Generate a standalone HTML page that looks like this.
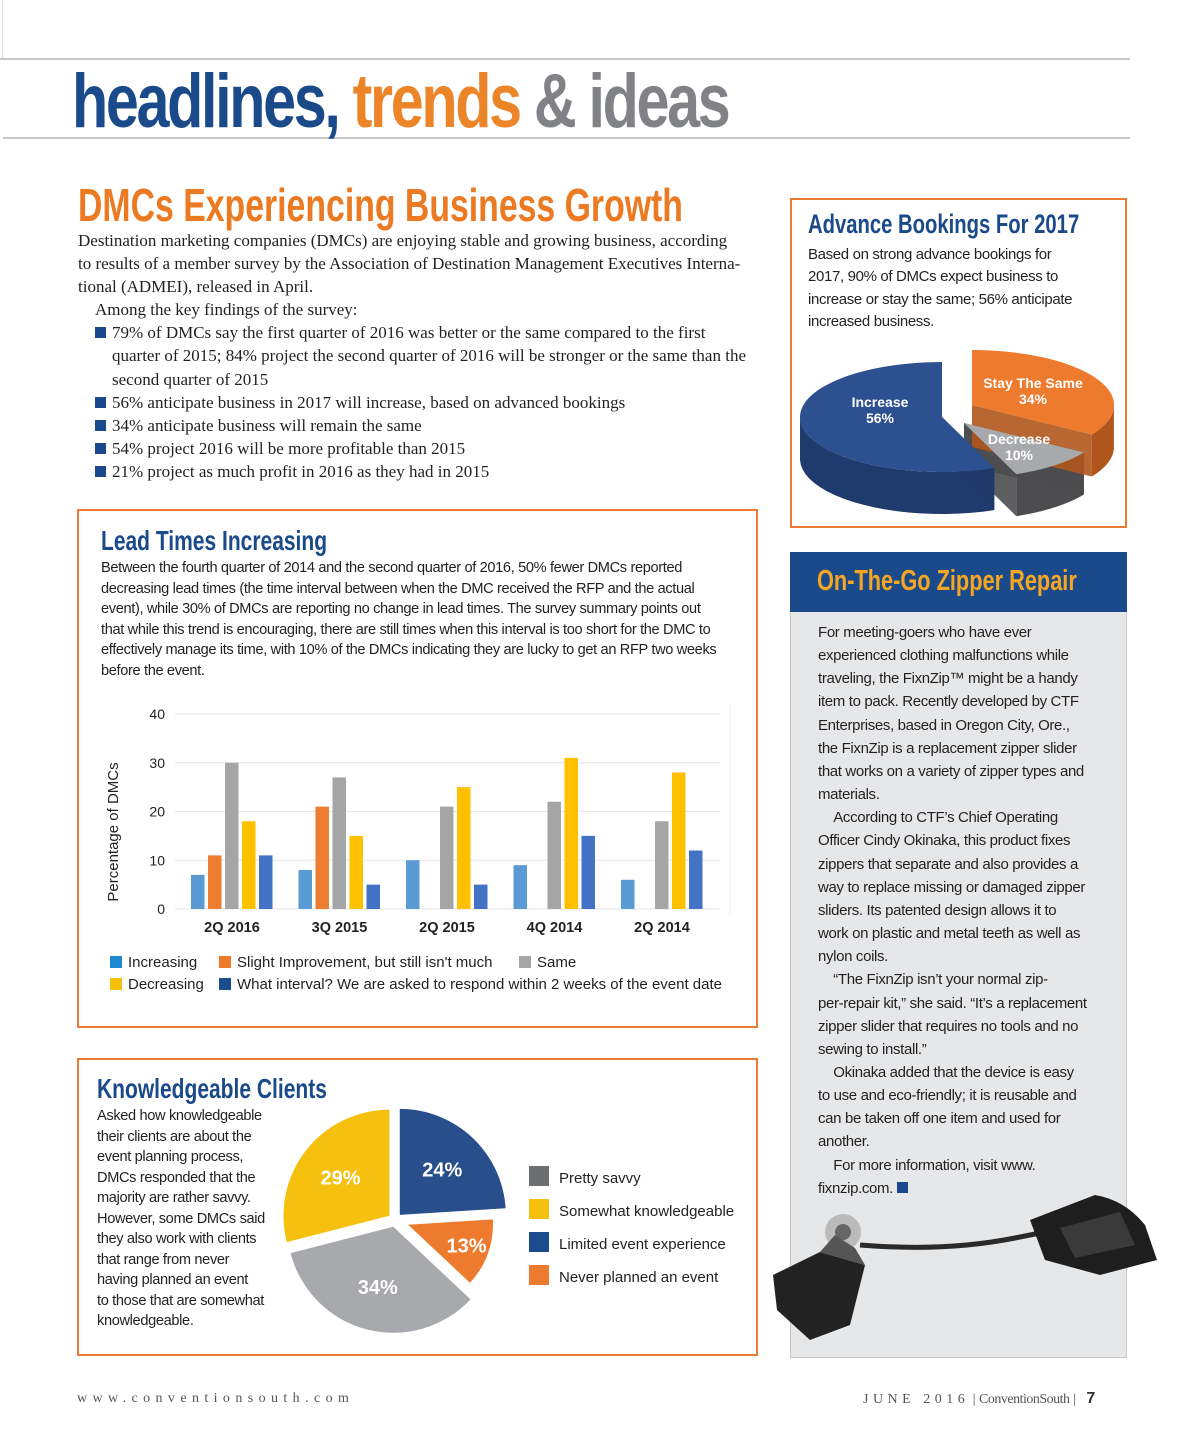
<!DOCTYPE html>
<html><head><meta charset="utf-8">
<style>
*{margin:0;padding:0;box-sizing:border-box}
body{width:1200px;height:1450px;background:#fff;position:relative;overflow:hidden;font-family:"Liberation Sans",sans-serif;color:#231f20}
.abs{position:absolute}
.cond{display:inline-block;transform-origin:0 0;white-space:nowrap;font-weight:bold}
.serif{font-family:"Liberation Serif",serif;font-size:17px;line-height:23.1px;white-space:nowrap;color:#231f20}
.sans{font-size:14.6px;line-height:20.5px;white-space:nowrap;letter-spacing:-0.35px}
.sq{display:inline-block;width:11px;height:11px;background:#1b4a8c;margin-right:6px;vertical-align:0}
.box{position:absolute;border:2px solid #ec7a32}
.leg{position:absolute;font-size:15px;white-space:nowrap}
.leg i{display:inline-block;width:12px;height:12px;margin-right:6px;vertical-align:-1px}
</style></head><body>
<div class="abs" style="left:2px;top:0;width:1px;height:60px;background:#ddd"></div>
<div class="abs" style="left:0;top:58px;width:1130px;height:2px;background:#c8c8c8"></div>
<div class="abs" style="left:3px;top:137px;width:1127px;height:2px;background:#c8c8c8"></div>
<div class="abs" style="left:72px;top:58px">
 <span class="cond" style="font-size:76px;letter-spacing:-3px;transform:scaleX(0.78)"><span style="color:#1a4a8a">headlines,</span> <span style="color:#ec8428">trends</span> <span style="color:#808285">&amp; ideas</span></span>
</div>

<div class="abs" style="left:78px;top:178px"><span class="cond" style="font-size:46px;color:#ec7a22;transform:scaleX(0.735)">DMCs Experiencing Business Growth</span></div>
<div class="abs serif" style="left:78px;top:229px">
Destination marketing companies (DMCs) are enjoying stable and growing business, according<br>
to results of a member survey by the Association of Destination Management Executives Interna-<br>
tional (ADMEI), released in April.<br>
&nbsp;&nbsp;&nbsp;&nbsp;Among the key findings of the survey:<br>
&nbsp;&nbsp;&nbsp;&nbsp;<span class="sq"></span>79% of DMCs say the first quarter of 2016 was better or the same compared to the first<br>
<span style="padding-left:34px"></span>quarter of 2015; 84% project the second quarter of 2016 will be stronger or the same than the<br>
<span style="padding-left:34px"></span>second quarter of 2015<br>
&nbsp;&nbsp;&nbsp;&nbsp;<span class="sq"></span>56% anticipate business in 2017 will increase, based on advanced bookings<br>
&nbsp;&nbsp;&nbsp;&nbsp;<span class="sq"></span>34% anticipate business will remain the same<br>
&nbsp;&nbsp;&nbsp;&nbsp;<span class="sq"></span>54% project 2016 will be more profitable than 2015<br>
&nbsp;&nbsp;&nbsp;&nbsp;<span class="sq"></span>21% project as much profit in 2016 as they had in 2015
</div>

<!-- Lead times box -->
<div class="box" style="left:77px;top:509px;width:681px;height:519px"></div>
<div class="abs" style="left:101px;top:525px"><span class="cond" style="font-size:28px;color:#1a4a8a;transform:scaleX(0.75)">Lead Times Increasing</span></div>
<div class="abs sans" style="left:101px;top:558px">
Between the fourth quarter of 2014 and the second quarter of 2016, 50% fewer DMCs reported<br>
decreasing lead times (the time interval between when the DMC received the RFP and the actual<br>
event), while 30% of DMCs are reporting no change in lead times. The survey summary points out<br>
that while this trend is encouraging, there are still times when this interval is too short for the DMC to<br>
effectively manage its time, with 10% of the DMCs indicating they are lucky to get an RFP two weeks<br>
before the event.
</div>
<svg class="abs" id="bar" style="left:0;top:0" width="760" height="1000"></svg>
<div class="leg" style="left:110px;top:954px"><i style="background:#1e88d0"></i>Increasing</div>
<div class="leg" style="left:219px;top:954px"><i style="background:#ee7a2e"></i>Slight Improvement, but still isn't much</div>
<div class="leg" style="left:519px;top:954px"><i style="background:#a5a5a5"></i>Same</div>
<div class="leg" style="left:110px;top:976px"><i style="background:#f6c10e"></i>Decreasing</div>
<div class="leg" style="left:219px;top:976px"><i style="background:#1c4b8e"></i>What interval? We are asked to respond within 2 weeks of the event date</div>

<!-- Knowledgeable box -->
<div class="box" style="left:77px;top:1058px;width:681px;height:298px"></div>
<div class="abs" style="left:97px;top:1073px"><span class="cond" style="font-size:28px;color:#1a4a8a;transform:scaleX(0.75)">Knowledgeable Clients</span></div>
<div class="abs sans" style="left:97px;top:1106px">
Asked how knowledgeable<br>their clients are about the<br>event planning process,<br>DMCs responded that the<br>majority are rather savvy.<br>However, some DMCs said<br>they also work with clients<br>that range from never<br>having planned an event<br>to those that are somewhat<br>knowledgeable.
</div>
<svg class="abs" id="kpie" style="left:275px;top:1102px" width="260" height="250"></svg>
<div class="leg" style="left:529px;top:1166px"><i style="background:#6d6e71;width:20px;height:20px;margin-right:10px;vertical-align:-3px"></i>Pretty savvy</div>
<div class="leg" style="left:529px;top:1199px"><i style="background:#f6c10e;width:20px;height:20px;margin-right:10px;vertical-align:-3px"></i>Somewhat knowledgeable</div>
<div class="leg" style="left:529px;top:1232px"><i style="background:#1c4b8e;width:20px;height:20px;margin-right:10px;vertical-align:-3px"></i>Limited event experience</div>
<div class="leg" style="left:529px;top:1265px"><i style="background:#ee7a2e;width:20px;height:20px;margin-right:10px;vertical-align:-3px"></i>Never planned an event</div>

<!-- Advance bookings -->
<div class="box" style="left:790px;top:198px;width:337px;height:330px"></div>
<div class="abs" style="left:808px;top:209px"><span class="cond" style="font-size:27px;color:#1a4a8a;transform:scaleX(0.75)">Advance Bookings For 2017</span></div>
<div class="abs sans" style="left:808px;top:244px;font-size:15px;line-height:22.3px">
Based on strong advance bookings for<br>2017, 90% of DMCs expect business to<br>increase or stay the same; 56% anticipate<br>increased business.
</div>
<svg class="abs" id="apie" style="left:800px;top:345px" width="320" height="175"></svg>

<!-- Zipper -->
<div class="abs" style="left:790px;top:552px;width:337px;height:806px;background:#e6e7e8;border:1px solid #c9c9c9"></div>
<div class="abs" style="left:790px;top:552px;width:337px;height:60px;background:#1a4a8a"></div>
<div class="abs" style="left:817px;top:565px"><span class="cond" style="font-size:29px;color:#f6a623;transform:scaleX(0.75)">On-The-Go Zipper Repair</span></div>
<div class="abs sans" style="left:818px;top:621px;font-size:15px;line-height:23.15px">
For meeting-goers who have ever<br>experienced clothing malfunctions while<br>traveling, the FixnZip™ might be a handy<br>item to pack. Recently developed by CTF<br>Enterprises, based in Oregon City, Ore.,<br>the FixnZip is a replacement zipper slider<br>that works on a variety of zipper types and<br>materials.<br>
&nbsp;&nbsp;&nbsp;&nbsp;According to CTF’s Chief Operating<br>Officer Cindy Okinaka, this product fixes<br>zippers that separate and also provides a<br>way to replace missing or damaged zipper<br>sliders. Its patented design allows it to<br>work on plastic and metal teeth as well as<br>nylon coils.<br>
&nbsp;&nbsp;&nbsp;&nbsp;“The FixnZip isn’t your normal zip-<br>per-repair kit,” she said. “It’s a replacement<br>zipper slider that requires no tools and no<br>sewing to install.”<br>
&nbsp;&nbsp;&nbsp;&nbsp;Okinaka added that the device is easy<br>to use and eco-friendly; it is reusable and<br>can be taken off one item and used for<br>another.<br>
&nbsp;&nbsp;&nbsp;&nbsp;For more information, visit www.<br>fixnzip.com.&nbsp;<span class="sq" style="margin:0"></span>
</div>
<svg class="abs" style="left:765px;top:1190px" width="400" height="165">
 <path d="M95 55 Q180 62 250 48 L290 40" stroke="#2a2a2a" stroke-width="5" fill="none"/>
 <path d="M265 30 L330 5 Q360 10 380 35 L392 70 L335 85 L280 70 Z" fill="#1e1e1e"/>
 <path d="M295 38 L355 22 L370 55 L310 68 Z" fill="#3a3a3a"/>
 <circle cx="78" cy="42" r="18" fill="#bbb"/>
 <circle cx="78" cy="42" r="8" fill="#666"/>
 <path d="M8 85 L55 62 L100 75 L85 135 L45 150 L12 120 Z" fill="#222"/>
 <path d="M55 62 L70 45 L90 58 L100 75 Z" fill="#555"/>
</svg>

<!-- footer -->
<div class="abs" style="left:77px;top:1391px;font-family:'Liberation Serif',serif;font-size:14px;letter-spacing:5.4px;color:#555">www.conventionsouth.com</div>
<div class="abs" style="left:863px;top:1390px;font-family:'Liberation Serif',serif;font-size:14px;color:#555;white-space:nowrap"><span style="letter-spacing:4.5px">JUNE 2016</span> | <span style="letter-spacing:-0.5px">ConventionSouth</span> | &nbsp;&nbsp;<b style="font-family:'Liberation Sans',sans-serif;font-size:16px;color:#333">7</b></div>

<script>
const categories=["2Q 2016","3Q 2015","2Q 2015","4Q 2014","2Q 2014"];
const increasing=[7,8,10,9,6];
const slight=[11,21,0,0,0];
const same=[30,27,21,22,18];
const decreasing=[18,15,25,31,28];
const whatInterval=[11,5,5,15,12];
const yTicks=[0,10,20,30,40];
const kLabels=["24%","13%","34%","29%"];
const kValues=[24,13,34,29];
const aNames=["Increase","Stay The Same","Decrease"];
const aValues=[56,34,10];
const NS="http://www.w3.org/2000/svg";
const svg=document.getElementById('bar');
const y=v=>909-v*4.875;
const gx=i=>232+i*107.5;
function mk(t,a,p){const e=document.createElementNS(NS,t);for(const k in a)e.setAttribute(k,a[k]);(p||svg).appendChild(e);return e;}
yTicks.forEach(t=>{
 const l=mk('line',{x1:175,x2:720,y1:y(t),y2:y(t),stroke:'#e6e6e6'});
 
 
 const tx=mk('text',{x:165,y:y(t)+5,'font-size':14,'text-anchor':'end',fill:'#222'});tx.textContent=t;
 
 
});
mk('line',{x1:730,x2:730,y1:705,y2:915,stroke:'#eee'});
const yt=mk('text',{transform:'translate(118,832) rotate(-90)','font-size':15,'text-anchor':'middle',fill:'#222'});
yt.textContent='Percentage of DMCs';


const series=[increasing,slight,same,decreasing,whatInterval];
const colors=['#5b9bd5','#ed7d31','#a5a5a5','#ffc000','#4472c4'];
categories.forEach((c,i)=>{
 series.forEach((s,j)=>{
  if(!s[i])return;
  const r=mk('rect',{x:gx(i)-41+j*17,y:y(s[i]),width:13.5,height:s[i]*4.875,fill:colors[j]});
  
  
 });
 const t=mk('text',{x:gx(i),y:932,'font-size':14.5,'font-weight':'bold','text-anchor':'middle',fill:'#222'});t.textContent=c;
 
 
});

// knowledgeable pie
const kColors=['#284e8c','#ee7a2e','#a7a9ac','#f6c10e'];
const ps=document.getElementById('kpie');
let a0=0;const cx=120,cy=118,R=106;
kValues.forEach((v,i)=>{
 const a1=a0+v/100*2*Math.PI, m=(a0+a1)/2;
 const off=i==1?14:7, ox=Math.sin(m)*off, oy=-Math.cos(m)*off;
 const r=i==1?R*0.8:R;
 const p=(a)=>[cx+ox+r*Math.sin(a),cy+oy-r*Math.cos(a)];
 const [x0,y0]=p(a0),[x1,y1]=p(a1);
 const e=mk('path',{d:`M${cx+ox} ${cy+oy} L${x0} ${y0} A${r} ${r} 0 ${v>50?1:0} 1 ${x1} ${y1} Z`,fill:kColors[i]},ps);
 
 
 const lr=i==1?62:62;
 const t=mk('text',{x:cx+ox+lr*Math.sin(m),y:cy+oy-lr*Math.cos(m)+7,'text-anchor':'middle',fill:'#fff','font-size':20,'font-weight':'bold'},ps);
 t.textContent=kLabels[i];
 
 
 a0=a1;
});

// advance bookings 3D pie
const ap=document.getElementById('apie');
const aTop=['#2d5090','#ee7a2e','#a7a9ac'], aSide=['#1f3a6c','#b0561c','#4d4d4f'];
const ACX=150,ACY=72,RX=142,RY=55,D=42;
const starts=[];let s=360-aValues[0]*3.6;
let acc=s;aValues.forEach(v=>{starts.push(acc);acc+=v*3.6;});
const offs=[[ -8,0],[22,-12],[14,6]];
const pt=(a,ox,oy,dy)=>{const r=a*Math.PI/180;return [ACX+ox+RX*Math.sin(r),ACY+oy-RY*Math.cos(r)+(dy||0)];};
// sides first (order: far first)
[2,1,0].forEach(i=>{
 const [ox,oy]=offs[i];const a0=starts[i],a1=a0+aValues[i]*3.6;
 let d='';const steps=40;
 // outer side for arc portion with lower half visible
 const pts=[];for(let k=0;k<=steps;k++){const a=a0+(a1-a0)*k/steps;const n=((a%360)+360)%360;if(n>90&&n<270)pts.push(a);}
 if(pts.length>1){
  d='M'+pts.map(a=>pt(a,ox,oy).join(' ')).join(' L')+' L'+pts.slice().reverse().map(a=>pt(a,ox,oy,D).join(' ')).join(' L')+' Z';
  const e=mk('path',{d:d,fill:aSide[i]},ap);
  
  
 }
 // cut faces
 [a0,a1].forEach(a=>{
  const c=[ACX+ox,ACY+oy],q=pt(a,ox,oy);
  const e=mk('path',{d:`M${c[0]} ${c[1]} L${q[0]} ${q[1]} L${q[0]} ${q[1]+D} L${c[0]} ${c[1]+D} Z`,fill:aSide[i],opacity:0.9},ap);
  
  
 });
});
aValues.forEach((v,i)=>{
 const [ox,oy]=offs[i];const a0=starts[i],a1=a0+v*3.6;
 const p0=pt(a0,ox,oy),p1=pt(a1,ox,oy);
 const e=mk('path',{d:`M${ACX+ox} ${ACY+oy} L${p0[0]} ${p0[1]} A${RX} ${RY} 0 ${v>50?1:0} 1 ${p1[0]} ${p1[1]} Z`,fill:aTop[i]},ap);
 
 
});
const aLab=[[80,62],[233,43],[219,99]];
aValues.forEach((v,i)=>{
 const t1=mk('text',{x:aLab[i][0],y:aLab[i][1],fill:'#fff','font-size':14,'font-weight':'bold','text-anchor':'middle'},ap);t1.textContent=aNames[i];
 
 
 const t2=mk('text',{x:aLab[i][0],y:aLab[i][1]+16,fill:'#fff','font-size':14,'font-weight':'bold','text-anchor':'middle'},ap);t2.textContent=v+'%';
 
 
});
</script>
</body></html>
